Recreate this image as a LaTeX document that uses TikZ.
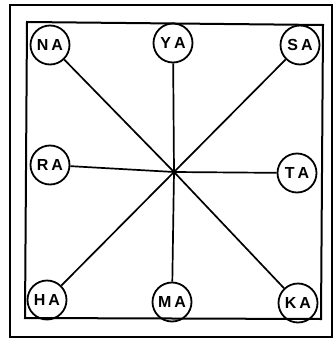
\documentclass[tikz,border=0pt]{standalone}
\usepackage{fontspec}
\setsansfont{Liberation Sans}
\begin{document}
\begin{tikzpicture}[x=1pt,y=-1pt,
  syl/.style={circle,draw,line width=1.8pt,minimum size=39pt,inner sep=0pt,
    font=\sffamily\bfseries\fontsize{16}{16}\selectfont},
  spoke/.style={line width=1.7pt},
  frame/.style={line width=1.7pt}]
\useasboundingbox (0,0) rectangle (335,342);
\draw[frame] (10,5) -- (332,5) -- (332,337) -- (10,337) -- cycle;
\draw[frame,line width=2pt] (27,22) -- (323,25) -- (321,319) -- (25,318) -- cycle;
\coordinate (c) at (174,172);
\node[syl] (na) at (50,45) {N\hspace{3pt}A};
\node[syl] (ya) at (173,43) {Y\hspace{3pt}A};
\node[syl] (sa) at (300,45) {S\hspace{3pt}A};
\node[syl] (ra) at (50,165) {R\hspace{3pt}A};
\node[syl] (ta) at (297,173) {T\hspace{3pt}A};
\node[syl] (ha) at (47,300) {H\hspace{3pt}A};
\node[syl] (ma) at (172,302) {M\hspace{3pt}A};
\node[syl] (ka) at (298,303) {K\hspace{3pt}A};
\foreach \n in {na,ya,sa,ra,ta,ha,ma,ka}
  \draw[spoke] (\n) -- (c);
\end{tikzpicture}
\end{document}
